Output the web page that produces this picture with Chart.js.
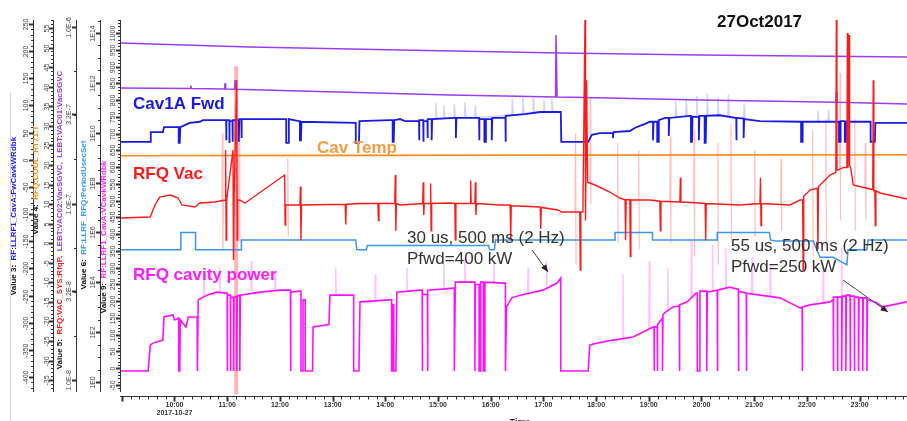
<!DOCTYPE html>
<html>
<head>
<meta charset="utf-8">
<script src="https://cdn.jsdelivr.net/npm/chart.js@4.4.0/dist/chart.umd.min.js"></script>
<style>
  html, body { margin: 0; padding: 0; background: #fff; overflow: hidden; }
  canvas { display: block; }
</style>
</head>
<body>
<canvas id="chart" width="907" height="421"></canvas>
<script>
// time axis (hours of 2017-10-27)
const hourValues = [10, 11, 12, 13, 14, 15, 16, 17, 18, 19, 20, 21, 22, 23];
const hourLabels = ['10:00', '11:00', '12:00', '13:00', '14:00', '15:00', '16:00', '17:00', '18:00', '19:00', '20:00', '21:00', '22:00', '23:00'];
const dateLabel = '2017-10-27';

// tick labels of the five value axes
const fwdTicks = [250, 200, 150, 100, 50, 0, -50, -100, -150, -200, -250, -300, -350, -400];
const tempTicks = [55, 50, 45, 40, 35, 30, 25, 20, 15, 10, 5, 0, -5, -10, -15, -20, -25, -30, -35];
const vacTicks = [1e-6, 3.2e-7, 1e-7, 3.2e-8, 1e-8];
const vacTickLabels = ['1.0E-6', '3.2E-7', '1.0E-7', '3.2E-8', '1.0E-8'];
const periodTicks = [1e14, 1e12, 1e10, 1e8, 1e6, 1e4, 1e2, 1];
const periodTickLabels = ['1E14', '1E12', '1E10', '1E8', '1E6', '1E4', '1E2', '1E0'];
const powerTicks = [1000, 950, 900, 850, 800, 750, 700, 650, 600, 550, 500, 450, 400, 350, 300, 250, 200, 150, 100, 50, 0, -50];

// Value 3: RF:LLRF1_CavA:FwCavkWRdbk  [hour, kW]
const cavFwd = [
  [8.97, 33], [9.54, 33], [9.55, 51], [9.78, 51], [9.80, 60], [10.08, 60], [10.08, 31], [10.10, 31], [10.11, 60],
  [10.29, 68], [10.48, 70], [10.54, 73], [10.98, 73], [10.98, 36], [10.99, 73], [11.04, 73], [11.04, 31],
  [11.05, 71], [11.10, 71], [11.10, 33], [11.11, 73], [11.16, 73], [11.16, 36], [11.17, 73], [11.22, 73],
  [11.22, 33], [11.23, 75], [11.27, 75], [11.27, 40], [11.28, 75], [12.12, 75], [12.12, 31], [12.16, 31],
  [12.17, 75], [12.36, 71], [12.38, 71], [12.38, 36], [12.40, 36], [12.41, 70], [13.44, 68], [13.44, 31],
  [13.50, 31], [13.51, 71], [14.09, 73], [14.14, 73], [14.14, 33], [14.16, 33], [14.17, 73], [14.28, 75],
  [14.38, 71], [14.64, 71], [14.64, 36], [14.65, 73], [14.72, 73], [14.72, 33], [14.73, 71], [14.80, 71],
  [14.80, 40], [14.81, 75], [14.88, 75], [14.88, 36], [14.89, 75], [15.32, 77], [15.34, 77], [15.34, 40],
  [15.35, 77], [15.76, 77], [15.78, 77], [15.78, 36], [15.79, 75], [15.88, 75], [15.88, 33], [15.90, 33],
  [15.91, 75], [15.99, 75], [16.02, 75], [16.02, 36], [16.03, 77], [16.27, 77], [16.28, 77], [16.28, 33],
  [16.29, 81], [16.65, 84], [16.94, 88], [17.33, 88], [17.34, 33], [17.85, 33], [17.92, 46], [18.07, 49],
  [18.32, 49], [18.32, 40], [18.33, 51], [18.64, 53], [18.74, 59], [18.93, 66], [19.02, 70], [19.08, 70],
  [19.08, 36], [19.09, 70], [19.16, 70], [19.16, 33], [19.18, 33], [19.19, 73], [19.31, 77], [19.38, 77],
  [19.38, 44], [19.39, 77], [19.78, 81], [19.80, 81], [19.80, 33], [19.82, 33], [19.83, 79], [19.95, 79],
  [19.95, 36], [19.96, 81], [20.06, 81], [20.06, 31], [20.08, 31], [20.09, 81], [20.35, 82], [20.64, 77],
  [20.66, 77], [20.66, 36], [20.67, 77], [20.80, 76], [20.80, 40], [20.81, 75], [21.11, 71], [21.89, 70],
  [21.89, 33], [21.91, 33], [21.92, 70], [22.61, 70], [22.61, 33], [22.63, 33], [22.64, 71], [22.72, 71],
  [22.72, 33], [22.74, 33], [22.75, 70], [23.21, 70], [23.21, 33], [23.29, 33], [23.30, 68], [23.90, 68]
];
const cavFwdHalo = [
  [14.95, 75], [14.96, 104], [14.98, 76], [15.10, 76], [15.11, 100], [15.13, 77], [15.30, 77], [15.31, 102],
  [15.33, 77], [15.50, 78], [15.51, 106], [15.53, 78], [15.70, 78], [15.71, 100], [15.73, 78], [16.40, 82],
  [16.41, 112], [16.43, 83], [16.60, 84], [16.61, 115], [16.63, 85], [16.80, 86], [16.81, 114], [16.83, 87],
  [17.00, 88], [17.01, 110], [17.03, 88], [17.15, 88], [17.16, 112], [17.18, 88], [17.19, null],
  [19.50, 78], [19.51, 108], [19.53, 79], [19.70, 80], [19.71, 112], [19.73, 81], [19.90, 81], [19.91, 118],
  [19.93, 81], [20.10, 81], [20.11, 122], [20.13, 82], [20.30, 82], [20.31, 115], [20.33, 82], [20.50, 80],
  [20.51, 120], [20.53, 79], [20.80, 76], [20.81, 104], [20.83, 75], [20.84, null],
  [22.20, 70], [22.21, 90], [22.23, 70], [22.40, 70], [22.41, 92], [22.43, 70]
];

// Value 4: RFQ:COOL_RT71:T  [hour, degC]
const cavTemp = [[8.97, 22.35], [13.0, 22.45], [18.0, 22.5], [23.9, 22.6]];

// Value 5: LEBT vacuum gauges and RFQ vacuum  [hour, Pa]
const lebtVacA = [[8.97, 8.11e-7], [11.43, 7.70e-7], [14.28, 7.41e-7], [17.32, 7.12e-7], [19.97, 6.94e-7], [23.90, 6.76e-7]];
const lebtVacB = [
  [8.97, 4.51e-7], [10.30, 4.48e-7], [10.31, 4.65e-7], [10.32, 4.48e-7], [10.95, 4.45e-7], [10.96, 4.82e-7],
  [10.97, 4.45e-7], [11.14, 4.44e-7], [11.15, 5.01e-7], [11.16, 4.44e-7], [12.38, 4.34e-7], [15.23, 4.12e-7],
  [16.50, 4.05e-7], [17.23, 4.01e-7], [17.24, 9.01e-7], [17.26, 4.01e-7], [17.78, 3.99e-7], [17.79, 4.6e-7],
  [17.80, 3.99e-7], [19.97, 3.86e-7], [22.55, 3.75e-7], [22.56, 4.3e-7], [22.57, 3.75e-7], [22.78, 3.74e-7],
  [22.79, 4.2e-7], [22.80, 3.74e-7], [23.90, 3.66e-7]
];
const rfqVac = [
  [8.97, 8.28e-8], [9.54, 8.38e-8], [9.63, 9.81e-8], [9.72, 1.088e-7], [9.92, 1.117e-7], [10.07, 1.074e-7],
  [10.14, 9.81e-8], [10.39, 9.55e-8], [10.48, 1.006e-7], [10.77, 1.02e-7], [10.96, 1.046e-7],
  [10.97, 2.01e-7], [10.98, 6.21e-8], [10.99, 1.046e-7],
  [11.11, 2.01e-7], [11.12, 4.79e-8], [11.13, 1.05e-7],
  [11.18, 5.0e-7], [11.19, 6.2e-8], [11.20, 1.05e-7],
  [11.24, 1.046e-7], [11.34, 1.006e-7],
  [12.09, 1.45e-7], [12.10, 7.55e-8], [12.11, 9.8e-8],
  [12.38, 9.81e-8], [12.39, 1.25e-7], [12.40, 6.2e-8], [12.41, 9.8e-8],
  [13.24, 9.9e-8], [13.25, 7.6e-8], [13.26, 9.9e-8], [13.52, 1.0e-7],
  [13.86, 1.0e-7], [13.87, 8.0e-8], [13.88, 1.0e-7],
  [14.18, 1.0e-7], [14.19, 1.45e-7], [14.20, 7.0e-8], [14.21, 1.0e-7], [14.28, 9.81e-8],
  [14.71, 1.0e-7], [14.72, 1.32e-7], [14.73, 8.6e-8], [14.74, 1.0e-7],
  [14.85, 1.0e-7], [14.86, 1.3e-7], [14.87, 7.0e-8], [14.88, 1.0e-7], [15.23, 1.006e-7],
  [15.32, 1.0e-7], [15.33, 6.2e-8], [15.34, 1.0e-7],
  [15.61, 1.0e-7], [15.62, 1.35e-7], [15.63, 1.0e-7],
  [15.70, 1.0e-7], [15.71, 1.32e-7], [15.72, 8.6e-8], [15.73, 1.0e-7], [16.18, 9.81e-8],
  [16.37, 9.8e-8], [16.38, 6.2e-8], [16.39, 9.7e-8],
  [16.94, 9.55e-8], [16.95, 7.2e-8], [16.96, 9.5e-8], [17.28, 9.19e-8], [17.35, 8.95e-8],
  [17.69, 8.95e-8], [17.70, 4.2e-8], [17.71, 8.95e-8],
  [17.75, 8.95e-8], [17.79, 1.096e-6], [17.80, 8.0e-8], [17.82, 5.0e-7], [17.84, 1.32e-7],
  [17.98, 1.273e-7], [18.26, 1.162e-7], [18.45, 1.074e-7],
  [18.55, 1.05e-7], [18.56, 6.2e-8], [18.57, 1.05e-7],
  [18.64, 1.05e-7], [18.65, 5.0e-8], [18.66, 1.05e-7], [19.02, 1.046e-7],
  [19.21, 1.03e-7], [19.22, 7.0e-8], [19.23, 1.03e-7],
  [19.59, 1.02e-7], [19.60, 1.4e-7], [19.61, 1.02e-7], [19.97, 1.006e-7],
  [20.07, 1.0e-7], [20.08, 6.2e-8], [20.09, 1.0e-7], [20.73, 9.81e-8],
  [21.11, 1.0e-7], [21.12, 1.4e-7], [21.13, 7.5e-8], [21.14, 1.0e-7],
  [21.68, 9.81e-8], [21.87, 1.046e-7],
  [21.92, 1.05e-7], [21.93, 4.2e-8], [21.94, 1.1e-7], [22.06, 1.192e-7],
  [22.20, 1.22e-7], [22.21, 5.5e-8], [22.22, 1.25e-7], [22.25, 1.273e-7], [22.44, 1.45e-7],
  [22.55, 1.5e-7], [22.56, 1.096e-6], [22.57, 1.55e-7], [22.59, 1.547e-7], [22.70, 1.6e-7],
  [22.76, 1.6e-7], [22.77, 9.25e-7], [22.78, 1.6e-7], [22.80, 9.0e-7], [22.81, 1.65e-7],
  [22.83, 1.6e-7], [22.88, 1.273e-7], [23.12, 1.224e-7],
  [23.25, 1.2e-7], [23.26, 5.0e-7], [23.27, 1.18e-7],
  [23.29, 1.18e-7], [23.30, 7.5e-8], [23.31, 1.18e-7], [23.39, 1.147e-7], [23.90, 1.06e-7]
];
const rfqVacBand = [[11.17, 6.0e-7], [11.17, 8.3e-9]];
const rfqVacHalo = [
  [10.90, 1.05e-7], [10.91, 2.5e-7], [10.92, 5.5e-8], [10.93, 1.05e-7], [10.94, null],
  [11.22, 1.05e-7], [11.23, 3.0e-7], [11.24, 6.0e-8], [11.25, null],
  [12.14, 1.0e-7], [12.15, 1.8e-7], [12.16, 6.5e-8], [12.17, null],
  [17.60, 9e-8], [17.61, 2.5e-7], [17.62, 4.5e-8], [17.63, null],
  [17.88, 1.3e-7], [17.89, 4.0e-7], [17.90, 1.0e-7], [17.91, null],
  [18.40, 1.1e-7], [18.41, 2.2e-7], [18.42, 6.0e-8], [18.43, null],
  [18.80, 1.05e-7], [18.81, 2.0e-7], [18.82, 5.5e-8], [18.83, null],
  [19.40, 1.03e-7], [19.41, 2.4e-7], [19.42, 6.0e-8], [19.43, null],
  [19.85, 1.0e-7], [19.86, 2.6e-7], [19.87, 5.0e-8], [19.88, null],
  [20.30, 1.0e-7], [20.31, 2.2e-7], [20.32, 4.5e-8], [20.33, null],
  [20.55, 1.0e-7], [20.56, 2.8e-7], [20.57, 6.0e-8], [20.58, null],
  [21.00, 1.0e-7], [21.01, 2.0e-7], [21.02, 6.5e-8], [21.03, null],
  [21.50, 1.0e-7], [21.51, 1.8e-7], [21.52, 7.0e-8], [21.53, null],
  [22.10, 1.2e-7], [22.11, 2.6e-7], [22.12, 5.0e-8], [22.13, null],
  [22.35, 1.4e-7], [22.36, 3.0e-7], [22.37, 6.0e-8], [22.38, null],
  [22.62, 1.55e-7], [22.63, 5.5e-7], [22.64, 8.0e-8], [22.65, null],
  [22.90, 1.25e-7], [22.91, 3.0e-7], [22.92, 7.0e-8], [22.93, null],
  [23.10, 1.2e-7], [23.11, 2.2e-7], [23.12, 8.0e-8]
];

// Value 6: RF:LLRF_RFQ:PeriodUsecSet  [hour, us]
const periodSet = [
  [8.97, 2e5], [10.12, 2e5], [10.12, 1e6], [10.40, 1e6], [10.40, 2e5], [11.27, 2e5], [11.27, 5e5],
  [13.44, 5e5], [13.46, 2e5], [13.64, 2e5], [13.66, 3e5], [15.96, 3e5], [15.98, 2e5], [16.07, 2e5],
  [16.09, 5e5], [18.36, 5e5], [18.36, 1e6], [19.07, 1e6], [19.07, 5e5], [20.30, 5e5], [20.30, 1e6],
  [21.29, 1e6], [21.31, 5e5], [21.40, 4.5e5], [22.12, 4.5e5], [22.25, 1e5], [22.50, 1e5], [22.76, 5e4],
  [22.78, 2e5], [23.14, 2e5], [23.16, 5e5], [23.90, 5e5]
];

// Value 9: RF:LLRF1_CavA:VCavkWRdbk  [hour, kW]
const cavPower = [
  [8.97, -8], [9.50, -8], [9.54, 69], [9.59, 75], [9.78, 84], [9.80, 153], [9.97, 159], [10.00, 144],
  [10.08, 150], [10.08, -8], [10.10, -8], [10.11, 144], [10.22, 123], [10.26, 153], [10.43, 153],
  [10.43, -8], [10.44, -8], [10.45, 204], [10.62, 218], [10.80, 227], [10.98, 224], [11.00, 224],
  [11.00, -8], [11.01, 218], [11.06, 218], [11.06, -8], [11.07, 210], [11.12, 212], [11.12, -8],
  [11.13, 212], [11.18, 215], [11.18, -8], [11.19, 215], [11.24, 218], [11.24, -8], [11.25, 218],
  [11.62, 227], [12.00, 233], [12.20, 233], [12.20, -8], [12.21, 227], [12.38, 230], [12.40, 230],
  [12.40, -8], [12.44, -8], [12.44, 204], [12.48, 204], [12.48, -8], [12.62, -8], [12.63, 123],
  [12.93, 130], [12.95, 218], [13.40, 218], [13.40, -8], [13.50, -8], [13.52, 198], [14.09, 204],
  [14.12, 204], [14.12, -8], [14.14, -8], [14.14, 190], [14.16, 190], [14.16, -8], [14.20, -8],
  [14.22, 227], [14.66, 233], [14.70, 233], [14.70, -8], [14.71, 220], [14.80, 220], [14.80, -8],
  [14.81, 233], [15.29, 239], [15.31, 239], [15.31, -8], [15.33, 257], [15.66, 257], [15.70, 257],
  [15.70, -8], [15.71, 250], [15.78, 250], [15.78, -8], [15.80, -8], [15.81, 257], [15.86, 257],
  [15.86, -8], [15.88, -8], [15.89, 257], [16.23, 254], [16.28, 254], [16.28, -8], [16.30, 183],
  [16.40, 210], [16.56, 218], [16.99, 233], [17.26, 254], [17.33, 269], [17.33, -8], [17.85, -8],
  [17.88, 69], [18.02, 75], [18.32, 84], [18.70, 93], [18.89, 108], [19.08, 123], [19.10, 123],
  [19.10, -8], [19.11, 123], [19.16, 125], [19.16, -8], [19.17, 130], [19.26, 150], [19.26, -8],
  [19.27, 160], [19.30, 165], [19.46, 183], [19.58, 186], [19.58, -8], [19.59, 189], [19.73, 198],
  [19.90, 224], [19.92, 224], [19.92, -8], [19.96, -8], [19.97, 230], [20.10, 230], [20.10, -8],
  [20.11, 227], [20.30, 233], [20.30, -8], [20.31, 233], [20.54, 242], [20.70, 235], [20.70, -8],
  [20.71, 230], [20.85, 224], [20.85, -8], [20.86, 224], [21.11, 218], [21.49, 210], [21.87, 180],
  [21.91, 182], [21.91, -8], [21.92, 183], [22.06, 189], [22.44, 198], [22.50, 205], [22.50, -8],
  [22.51, 212], [22.58, 212], [22.58, -8], [22.59, 212], [22.66, 212], [22.66, -8], [22.67, 215],
  [22.74, 215], [22.74, -8], [22.75, 218], [22.82, 218], [22.82, -8], [22.83, 215], [22.90, 215],
  [22.90, -8], [22.91, 212], [22.98, 212], [22.98, -8], [22.99, 210], [23.06, 210], [23.06, -8],
  [23.07, 210], [23.14, 210], [23.14, -8], [23.15, 205], [23.24, 200], [23.33, 195], [23.44, 183],
  [23.90, 198]
];
const cavPowerHalo = [
  [10.55, 210], [10.56, 290], [10.57, 215], [10.58, null], [10.85, 225], [10.86, 300], [10.87, 225], [10.88, null],
  [11.45, 230], [11.46, 320], [11.47, 230], [11.48, null], [11.90, 232], [11.91, 290], [11.92, 232], [11.93, null],
  [13.05, 218], [13.06, 300], [13.07, 218], [13.08, null], [13.80, 200], [13.81, 280], [13.82, 200], [13.83, null],
  [14.40, 228], [14.41, 300], [14.42, 228], [14.43, null], [15.10, 236], [15.11, 310], [15.12, 236], [15.13, null],
  [15.50, 257], [15.51, 330], [15.52, 257], [15.53, null], [16.05, 256], [16.06, 320], [16.07, 256], [16.08, null],
  [16.70, 225], [16.71, 300], [16.72, 225], [16.73, null], [17.05, 240], [17.06, 320], [17.07, 240], [17.08, null],
  [18.50, 88], [18.51, 280], [18.52, 88], [18.53, null], [19.00, 115], [19.01, 320], [19.02, 115], [19.03, null],
  [19.35, 170], [19.36, 300], [19.37, 170], [19.38, null], [19.80, 210], [19.81, 380], [19.82, 210], [19.83, null],
  [20.20, 230], [20.21, 370], [20.22, 230], [20.23, null], [20.45, 238], [20.46, 360], [20.47, 238], [20.48, null],
  [20.95, 222], [20.96, 330], [20.97, 222], [20.98, null], [21.30, 214], [21.31, 310], [21.32, 214], [21.33, null],
  [22.30, 192], [22.31, 300], [22.32, 192], [22.33, null], [22.65, 205], [22.66, 360], [22.67, 205]
];

const FONT = '"Liberation Sans", Arial, sans-serif';

function line(data, yAxisID, color, width, order) {
  return { data, yAxisID, borderColor: color, borderWidth: width, order, spanGaps: false };
}

function rotatedParts(ctx, x, yMid, parts) {
  ctx.save();
  ctx.font = 'bold 8px ' + FONT;
  const total = parts.reduce((w, p) => w + ctx.measureText(p[0]).width, 0);
  ctx.translate(x, yMid);
  ctx.rotate(-Math.PI / 2);
  ctx.textBaseline = 'middle';
  ctx.textAlign = 'left';
  let cx = -total / 2;
  for (const [txt, col] of parts) {
    ctx.fillStyle = col;
    ctx.fillText(txt, cx, 0);
    cx += ctx.measureText(txt).width;
  }
  ctx.restore();
}

function drawYAxis(ctx, scale, ax, top, bottom) {
  ctx.save();
  ctx.strokeStyle = '#333';
  ctx.lineWidth = 1;
  ctx.beginPath();
  ctx.moveTo(ax.lineX + 0.5, top);
  ctx.lineTo(ax.lineX + 0.5, bottom);
  ctx.stroke();
  for (const v of ax.minor) {
    const y = Math.round(scale.getPixelForValue(v)) + 0.5;
    if (y < top || y > bottom) continue;
    ctx.beginPath(); ctx.moveTo(ax.lineX - 2, y); ctx.lineTo(ax.lineX + 1, y); ctx.stroke();
  }
  ctx.lineWidth = 2;
  ctx.font = '7px ' + FONT;
  ctx.fillStyle = '#444';
  ctx.textAlign = 'center';
  ctx.textBaseline = 'middle';
  ax.ticks.forEach((v, i) => {
    const y = Math.round(scale.getPixelForValue(v)) + 0.5;
    ctx.beginPath(); ctx.moveTo(ax.lineX - 4, y); ctx.lineTo(ax.lineX + 1, y); ctx.stroke();
    ctx.save();
    ctx.translate(ax.labelX, y);
    ctx.rotate(-Math.PI / 2);
    ctx.fillText(ax.labels[i], 0, 0);
    ctx.restore();
  });
  ctx.restore();
}

function linearMinor(scale, step) {
  const out = [];
  for (let v = Math.ceil(scale.min / step) * step; v <= scale.max; v += step) out.push(v);
  return out;
}
function logMinor(scale, perDecade) {
  const out = [];
  const lo = Math.floor(Math.log10(scale.min)), hi = Math.ceil(Math.log10(scale.max));
  for (let e = lo; e <= hi; e += 1 / perDecade) out.push(Math.pow(10, e));
  return out;
}

function drawArrow(ctx, x1, y1, x2, y2) {
  const a = Math.atan2(y2 - y1, x2 - x1);
  ctx.save();
  ctx.strokeStyle = '#444';
  ctx.fillStyle = '#222';
  ctx.lineWidth = 1;
  ctx.beginPath(); ctx.moveTo(x1, y1); ctx.lineTo(x2, y2); ctx.stroke();
  ctx.beginPath();
  ctx.moveTo(x2, y2);
  ctx.lineTo(x2 - 8 * Math.cos(a - 0.4), y2 - 8 * Math.sin(a - 0.4));
  ctx.lineTo(x2 - 8 * Math.cos(a + 0.4), y2 - 8 * Math.sin(a + 0.4));
  ctx.closePath();
  ctx.fill();
  ctx.restore();
}

const stripAxes = {
  id: 'stripAxes',
  afterDraw(chart) {
    const ctx = chart.ctx;
    const s = chart.scales;
    const area = chart.chartArea;
    const top = area.top + 2, bottom = area.bottom - 3;

    const axes = [
      { id: 'yFwd', lineX: 33, labelX: 26, ticks: fwdTicks, labels: fwdTicks.map(String), minor: linearMinor(s.yFwd, 10) },
      { id: 'yTemp', lineX: 53, labelX: 47, ticks: tempTicks, labels: tempTicks.map(String), minor: linearMinor(s.yTemp, 1) },
      { id: 'yVac', lineX: 76, labelX: 69, ticks: vacTicks, labels: vacTickLabels, minor: logMinor(s.yVac, 4) },
      { id: 'yPeriod', lineX: 100, labelX: 93, ticks: periodTicks, labels: periodTickLabels, minor: logMinor(s.yPeriod, 2) },
      { id: 'yPower', lineX: 120, labelX: 113, ticks: powerTicks, labels: powerTicks.map(String), minor: linearMinor(s.yPower, 10) }
    ];
    axes.forEach(ax => drawYAxis(ctx, s[ax.id], ax, top, bottom));

    rotatedParts(ctx, 14, 216, [['Value 3:  ', '#111'], ['RF:LLRF1_CavA:FwCavkWRdbk', '#1a1aff']]);
    rotatedParts(ctx, 36, 180, [['Value 4:  ', '#111'], ['RFQ:COOL_RT71:T', '#ff8c1a']]);
    rotatedParts(ctx, 60, 220, [['Value 5:  ', '#111'], ['RFQ:VAC_SYS:RfqP,  ', '#ff1a1a'], ['LEBT:VAC02:VacSGVC,  LEBT:VAC01:VacSGVC', '#9b3df2']]);
    rotatedParts(ctx, 84, 215, [['Value 6:  ', '#111'], ['RF:LLRF_RFQ:PeriodUsecSet', '#3399ff']]);
    rotatedParts(ctx, 104, 237, [['Value 9:  ', '#111'], ['RF:LLRF1_CavA:VCavkWRdbk', '#ff22ff']]);

    // time axis
    const xs = s.x;
    const yAxis = area.bottom + 1.5;
    ctx.save();
    ctx.strokeStyle = '#333';
    ctx.lineWidth = 1;
    ctx.beginPath(); ctx.moveTo(area.left, yAxis); ctx.lineTo(area.right, yAxis); ctx.stroke();
    for (let m = 9 * 6; m <= 24 * 6; m++) {
      const h = m / 6;
      if (h < xs.min || h > xs.max) continue;
      const x = Math.round(xs.getPixelForValue(h)) + 0.5;
      const major = m % 6 === 0;
      ctx.lineWidth = major ? 2 : 1;
      ctx.beginPath(); ctx.moveTo(x, yAxis); ctx.lineTo(x, yAxis + (major ? 5 : 3)); ctx.stroke();
    }
    ctx.fillStyle = '#333';
    ctx.font = 'bold 7px ' + FONT;
    ctx.textAlign = 'center';
    ctx.textBaseline = 'middle';
    hourValues.forEach((h, i) => {
      ctx.fillText(hourLabels[i], xs.getPixelForValue(h), 405);
    });
    ctx.fillText(dateLabel, xs.getPixelForValue(hourValues[0]), 413);
    ctx.font = 'bold 9px ' + FONT;
    ctx.fillText('Time', 520, 423);
    ctx.restore();

    // left frame line
    ctx.save();
    ctx.strokeStyle = '#d4d4d4';
    ctx.beginPath(); ctx.moveTo(10.5, 92); ctx.lineTo(10.5, 421); ctx.stroke();
    ctx.restore();

    // series names and notes
    ctx.save();
    ctx.textAlign = 'left';
    ctx.textBaseline = 'alphabetic';
    ctx.font = 'bold 17px ' + FONT;
    ctx.fillStyle = '#1a1ae6'; ctx.fillText('Cav1A Fwd', 133, 109);
    ctx.fillStyle = '#f59a45'; ctx.fillText('Cav Temp', 317, 153);
    ctx.fillStyle = '#ff1a1a'; ctx.fillText('RFQ Vac', 133, 179);
    ctx.fillStyle = '#ff1aff'; ctx.fillText('RFQ cavity power', 133, 280);
    ctx.fillStyle = '#111'; ctx.fillText('27Oct2017', 717, 27);
    ctx.font = '17px ' + FONT;
    ctx.fillStyle = '#333';
    ctx.fillText('30 us, 500 ms (2 Hz)', 407, 243);
    ctx.fillText('Pfwd=400 kW', 407, 264);
    ctx.fillText('55 us, 500 ms (2 Hz)', 731, 251);
    ctx.fillText('Pfwd=250 kW', 731, 272);
    ctx.restore();

    drawArrow(ctx, 532, 250, 548, 272);
    drawArrow(ctx, 843, 280, 888, 312);
  }
};

new Chart(document.getElementById('chart').getContext('2d'), {
  type: 'line',
  data: {
    datasets: [
      line(rfqVac, 'yVac', '#ff1a1a', 1.4, 1),
      line(cavPower, 'yPower', '#ff11ff', 1.6, 2),
      line(cavFwd, 'yFwd', '#1a1ae6', 1.8, 3),
      line(periodSet, 'yPeriod', '#3a96f0', 1.5, 4),
      line(cavTemp, 'yTemp', '#ff8a1f', 1.6, 5),
      line(lebtVacA, 'yVac', '#9b3df2', 1.5, 6),
      line(lebtVacB, 'yVac', '#9b3df2', 1.5, 6),
      line(rfqVacBand, 'yVac', 'rgba(255,40,40,0.35)', 4, 7),
      line(rfqVacHalo, 'yVac', 'rgba(255,40,40,0.3)', 1.2, 8),
      line(cavPowerHalo, 'yPower', 'rgba(255,60,255,0.3)', 1.5, 8),
      line(cavFwdHalo, 'yFwd', 'rgba(60,60,255,0.22)', 1.5, 8)
    ]
  },
  options: {
    responsive: false,
    animation: false,
    layout: { padding: { left: 120, top: 18, right: 0, bottom: 26 } },
    elements: { point: { radius: 0 }, line: { tension: 0 } },
    plugins: { legend: { display: false }, tooltip: { enabled: false } },
    scales: {
      x: { type: 'linear', min: 8.966, max: 23.9, display: false },
      yFwd: { type: 'linear', min: -433.1, max: 261.05, display: false },
      yTemp: { type: 'linear', min: -38.8, max: 57.56, display: false },
      yVac: { type: 'logarithmic', min: 8.22e-9, max: 1.125e-6, display: false },
      yPeriod: { type: 'logarithmic', min: 0.301, max: 4.0e14, display: false },
      yPower: { type: 'linear', min: -79.8, max: 1044.7, display: false }
    }
  },
  plugins: [stripAxes]
});
</script>
</body>
</html>
